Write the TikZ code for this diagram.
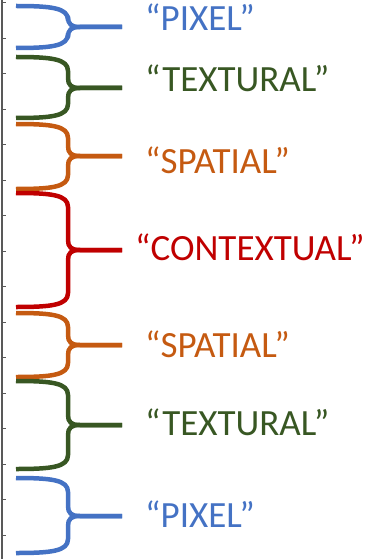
\documentclass[tikz,border=0pt]{standalone}
\usepackage{fontspec}
\setmainfont{Carlito}
\definecolor{cblue}{HTML}{4472C4}
\definecolor{cgreen}{HTML}{385723}
\definecolor{corange}{HTML}{C55A11}
\definecolor{cred}{HTML}{C00000}
\definecolor{caxis}{HTML}{595959}
\tikzset{
  bracepath/.style={line width=4.5pt, line join=round, line cap=butt},
  lbl/.style={anchor=base west, inner sep=0pt, font=\fontsize{37}{40}\selectfont},
  axisline/.style={caxis, line width=1.5pt},
  tickline/.style={caxis, line width=1pt}
}
\newcommand\mybrace[5]{%
  \coordinate (#5) at (122,#3);
  \draw[bracepath,#1] (16,#2) .. controls (52,#2) and (68,{#2+2}) .. (68,{#2+14})
     -- (68,{#3-10}) .. controls (68,{#3-3}) and (71,#3) .. (80,#3) -- (#5);
  \draw[bracepath,#1] (16,#4) .. controls (52,#4) and (68,{#4-2}) .. (68,{#4-14})
     -- (68,{#3+10}) .. controls (68,{#3+3}) and (71,#3) .. (80,#3) -- (#5);
}
\begin{document}
\begin{tikzpicture}[x=1pt,y=-1pt]
\useasboundingbox (0,0) rectangle (365,559);
% axis
\coordinate (axtop) at (2,0);
\coordinate (axbot) at (2,559);
\draw[axisline] (axtop) -- (axbot);
\foreach \k in {0,...,15}{
  \draw[tickline] (2,{2.7+35.5*\k}) -- (6,{2.7+35.5*\k});
}
% braces
\mybrace{cblue}{6}{27}{48}{t1}
\mybrace{cgreen}{57}{88}{118}{t2}
\mybrace{corange}{124}{156}{189}{t3}
\mybrace{cred}{193}{250}{307}{t4}
\mybrace{corange}{313}{345}{377}{t5}
\mybrace{cgreen}{381}{425}{469}{t6}
\mybrace{cblue}{478}{516}{553}{t7}
% labels
\node[lbl, cblue]   (l1) at (145,31)  {“PIXEL”};
\node[lbl, cgreen]  (l2) at (145,92)  {“TEXTURAL”};
\node[lbl, corange] (l3) at (145,173) {“SPATIAL”};
\node[lbl, cred]    (l4) at (135,260) {“CONTEXTUAL”};
\node[lbl, corange] (l5) at (145,357) {“SPATIAL”};
\node[lbl, cgreen]  (l6) at (145,435) {“TEXTURAL”};
\node[lbl, cblue]   (l7) at (145,527) {“PIXEL”};
\end{tikzpicture}
\end{document}
